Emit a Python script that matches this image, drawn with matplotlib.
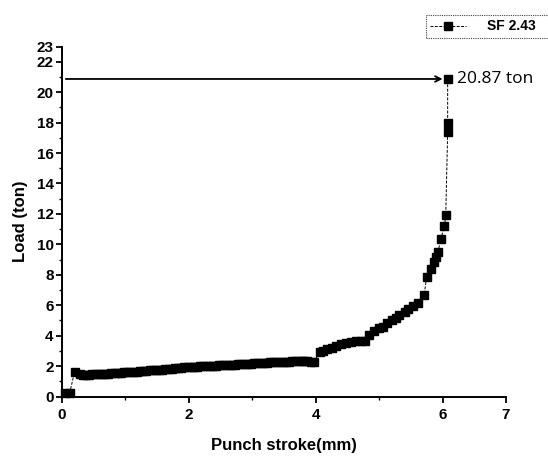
import matplotlib
matplotlib.use("Agg")
import matplotlib.pyplot as plt
from matplotlib.ticker import FixedLocator

# ---- data ----
stroke = [0.05, 0.12, 0.20, 0.28,
          0.33, 0.38, 0.43, 0.48, 0.53, 0.58, 0.63, 0.68, 0.73, 0.78,
          0.83, 0.88, 0.93, 0.98, 1.03, 1.08, 1.13, 1.18, 1.23, 1.28,
          1.33, 1.38, 1.43, 1.48, 1.53, 1.58, 1.63, 1.68, 1.73, 1.78,
          1.83, 1.88, 1.93, 1.98, 2.03, 2.08, 2.13, 2.18, 2.23, 2.28,
          2.33, 2.38, 2.43, 2.48, 2.53, 2.58, 2.63, 2.68, 2.73, 2.78,
          2.83, 2.88, 2.93, 2.98, 3.03, 3.08, 3.13, 3.18, 3.23, 3.28,
          3.33, 3.38, 3.43, 3.48, 3.53, 3.58, 3.63, 3.68, 3.73, 3.78,
          3.82, 3.87, 3.92, 3.97,
          4.06, 4.12, 4.18, 4.25, 4.32, 4.40, 4.48, 4.56, 4.64, 4.72,
          4.78, 4.84, 4.92, 5.00, 5.06, 5.12, 5.20, 5.26, 5.32, 5.40,
          5.46, 5.53, 5.61, 5.71, 5.75, 5.81, 5.87, 5.90, 5.93, 5.97,
          6.03, 6.05, 6.08, 6.08, 6.08]
load = [0.20, 0.22, 1.63, 1.45,
        1.42, 1.43, 1.44, 1.45, 1.46, 1.48, 1.49, 1.50, 1.51, 1.53,
        1.54, 1.55, 1.57, 1.58, 1.60, 1.61, 1.63, 1.64, 1.66, 1.67,
        1.69, 1.71, 1.73, 1.74, 1.76, 1.77, 1.79, 1.81, 1.83, 1.85,
        1.87, 1.89, 1.91, 1.93, 1.95, 1.96, 1.97, 1.98, 1.99, 2.00,
        2.01, 2.02, 2.03, 2.04, 2.05, 2.06, 2.08, 2.09, 2.10, 2.11,
        2.13, 2.14, 2.15, 2.16, 2.18, 2.19, 2.21, 2.22, 2.23, 2.24,
        2.25, 2.26, 2.27, 2.28, 2.29, 2.30, 2.31, 2.32, 2.34, 2.35,
        2.36, 2.33, 2.30, 2.27,
        2.90, 3.00, 3.10, 3.22, 3.32, 3.45, 3.52, 3.58, 3.62, 3.66,
        3.68, 4.05, 4.30, 4.47, 4.60, 4.80, 5.02, 5.16, 5.36, 5.55,
        5.72, 5.95, 6.13, 6.70, 7.88, 8.37, 8.87, 9.16, 9.53, 10.34,
        11.20, 11.94, 17.40, 18.00, 20.87]
series_label = "SF 2.43"
peak_text = "20.87 ton"
peak_value = 20.87
x_ticks = [0, 2, 4, 6, 7]
x_minor = [1, 3, 5]
y_ticks = [0, 2, 4, 6, 8, 10, 12, 14, 16, 18, 20, 22, 23]
y_minor = [1, 3, 5, 7, 9, 11, 13, 15, 17, 19, 21]

fig = plt.figure(figsize=(5.48, 4.61), dpi=100)
ax = fig.add_axes([0.1131, 0.1399, 0.9234 - 0.1131, 0.899 - 0.1399])

line, = ax.plot(stroke, load, color="black", lw=0.7, ls=(0, (3, 1.5)),
                marker="s", ms=6.2, mfc="black", mec="black",
                clip_on=False, label=series_label)

ax.set_xlim(0, 7)
ax.set_ylim(0, 23)
tick_font = dict(family="Liberation Sans", weight="bold", size=11)
ax.set_xticks(x_ticks, labels=[str(v) for v in x_ticks], **tick_font)
ax.set_yticks(y_ticks, labels=[str(v) for v in y_ticks], **tick_font)
ax.xaxis.set_minor_locator(FixedLocator(x_minor))
ax.yaxis.set_minor_locator(FixedLocator(y_minor))

for s in ["top", "right"]:
    ax.spines[s].set_visible(False)
for s in ["left", "bottom"]:
    ax.spines[s].set_linewidth(1.4)

ax.tick_params(which="major", direction="out", length=4, width=1.3)
ax.tick_params(axis="x", which="major", pad=4)
ax.tick_params(axis="y", which="major", pad=2)
ax.tick_params(which="minor", direction="out", length=2.5, width=1.0)

ax.set_xlabel("Punch stroke(mm)", fontsize=12, fontweight="bold",
              family="Liberation Sans", labelpad=12)
ax.set_ylabel("Load (ton)", fontsize=12, fontweight="bold",
              family="Liberation Sans", labelpad=6)

# arrow to the peak
ax.annotate("", xy=(6.0, peak_value), xytext=(0.06, peak_value),
            arrowprops=dict(arrowstyle="->", color="black", lw=1.3,
                            shrinkA=0, shrinkB=0))
ax.text(6.22, peak_value, peak_text, fontsize=12.5, family="Open Sans",
        va="center", ha="left")

leg = fig.legend(handles=[line], loc="upper left",
                 bbox_to_anchor=(0.765, 0.982, 0.26, 0.0), mode="expand",
                 prop=dict(family="Liberation Sans", weight="bold", size=10),
                 handlelength=2.6, handletextpad=1.5, borderpad=0.3,
                 fancybox=False, framealpha=1)
leg.get_frame().set_edgecolor("#444444")
leg.get_frame().set_linewidth(0.8)
leg.get_frame().set_linestyle((0, (1, 1)))

fig.savefig("out.png", dpi=100)
